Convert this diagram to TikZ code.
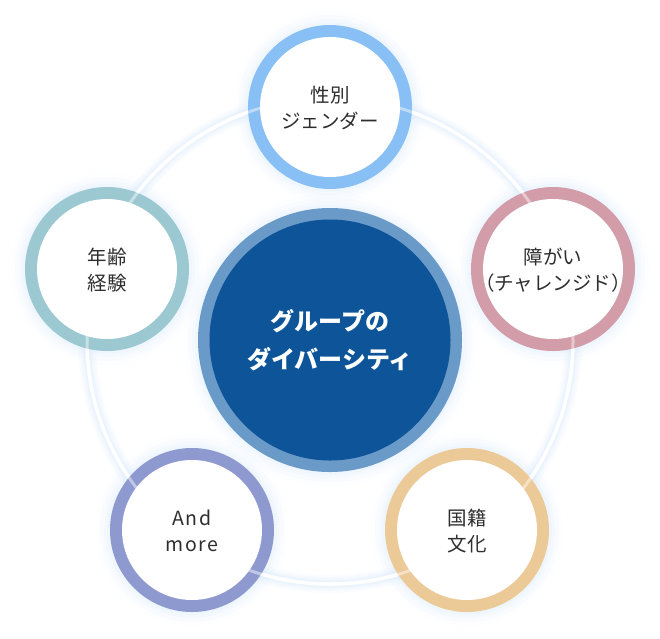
\documentclass[tikz,border=0pt]{standalone}
\usepackage{fontspec}
\newfontfamily\jp{Noto Sans CJK JP}
\definecolor{topring}{HTML}{88BFF4}
\definecolor{rightring}{HTML}{D29DA8}
\definecolor{leftring}{HTML}{9CC8D2}
\definecolor{blring}{HTML}{8E99D0}
\definecolor{brring}{HTML}{ECCA98}
\definecolor{cring}{HTML}{6A9AC8}
\definecolor{cfill}{HTML}{0D5499}
\definecolor{txt}{HTML}{2E2E2E}
\definecolor{glow}{HTML}{D3E6FB}
\tikzset{
  ringdisc/.style={circle, inner sep=0pt, minimum size=164pt, fill=#1},
  innerdisc/.style={circle, inner sep=0pt, minimum size=140pt, fill=white},
  label/.style={align=center, text=txt, font=\jp\fontsize{19.5}{26}\selectfont},
}
\newcommand{\halo}[2]{%
  \foreach \d/\o in {14/0.06,10/0.09,6/0.12,3/0.16}{
    \fill[glow, opacity=\o] #1 circle ({#2+\d pt});
  }%
}
\begin{document}
\begin{tikzpicture}[x=1pt,y=-1pt]
\useasboundingbox (0,0) rectangle (660,638);
% halos
\halo{(330,340)}{132pt}
\halo{(330,107)}{82pt}
\halo{(107,269)}{82pt}
\halo{(553,269)}{82pt}
\halo{(192,530)}{82pt}
\halo{(467,530)}{82pt}
% big ring with soft glow
\foreach \w/\o in {18/0.10,14/0.12,10/0.15,7/0.2}{
  \draw[glow, line width=\w pt, opacity=\o] (330,341) circle (243pt);
}
\draw[white, line width=3.5pt] (330,341) circle (243pt);
% colored rings
\node[ringdisc=topring] (top) at (330,107) {};
\node[ringdisc=leftring] (left) at (107,269) {};
\node[ringdisc=rightring] (right) at (553,269) {};
\node[ringdisc=blring] (bl) at (192,530) {};
\node[ringdisc=brring] (br) at (467,530) {};
% ring line over the rings, faint
\draw[white, line width=3pt, opacity=0.45] (330,341) circle (243pt);
% inner discs
\node[innerdisc] (topin) at (top) {};
\node[innerdisc] (leftin) at (left) {};
\node[innerdisc] (rightin) at (right) {};
\node[innerdisc] (blin) at (bl) {};
\node[innerdisc] (brin) at (br) {};
% center
\node[circle, inner sep=0pt, minimum size=264pt, fill=cring] (center) at (330,340) {};
\node[circle, inner sep=0pt, minimum size=241pt, fill=cfill] (centerin) at (center) {};
% labels
\node[label] (toptext) at (330,108) {性別\\ジェンダー};
\node[label] (lefttext) at (107,270) {年齢\\経験};
\node[label] (righttext) at (553,270) {障がい\\（チャレンジド）};
\node[label, font=\jp\addfontfeatures{LetterSpace=8}\fontsize{19.5}{26}\selectfont] (bltext) at (192,531) {And\\more};
\node[label] (brtext) at (467,531) {国籍\\文化};
\node[align=center, text=white, font=\jp\bfseries\fontsize{24}{38}\selectfont] (ctext) at (330,340) {グループの\\ダイバーシティ};
\end{tikzpicture}
\end{document}
